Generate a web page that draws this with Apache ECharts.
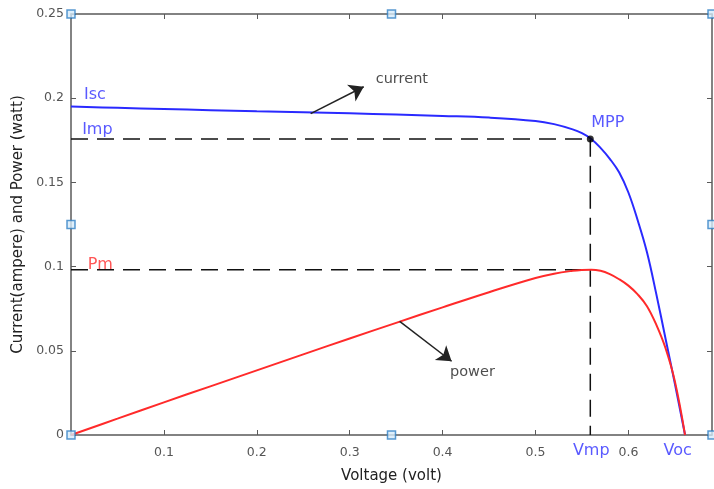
<!DOCTYPE html>
<html><head><meta charset="utf-8">
<script src="https://cdn.jsdelivr.net/npm/echarts@6/dist/echarts.min.js"></script>
<style>html,body{margin:0;padding:0;background:#fff;overflow:hidden}#c{width:714px;height:489px}</style>
</head><body><div id="c"></div>
<script>
// ---- data ----
const voltage = [0, 0.05, 0.1, 0.15, 0.2, 0.25, 0.3, 0.35, 0.4, 0.45, 0.5, 0.52, 0.54, 0.55, 0.56, 0.57, 0.58, 0.59, 0.60, 0.61, 0.62, 0.63, 0.64, 0.65, 0.661];
const current = [0.195, 0.1943, 0.1936, 0.1929, 0.1922, 0.1916, 0.191, 0.1903, 0.1895, 0.1885, 0.1865, 0.1846, 0.1815, 0.1792, 0.1758, 0.1705, 0.164, 0.156, 0.144, 0.1275, 0.1085, 0.0838, 0.0572, 0.0305, 0];
const power = [0, 0.0097, 0.0194, 0.0289, 0.0384, 0.0479, 0.0573, 0.0666, 0.0758, 0.0848, 0.0932, 0.0958, 0.0975, 0.098, 0.0982, 0.0975, 0.0955, 0.0925, 0.0887, 0.0835, 0.0765, 0.0655, 0.0515, 0.032, 0];
const vmp = 0.559, imp = 0.1758, pm = 0.0982;
const xTicks = [0.1, 0.2, 0.3, 0.4, 0.5, 0.6];
const yTicks = [0, 0.05, 0.1, 0.15, 0.2, 0.25];
const xMax = 0.69, yMax = 0.25;
const notes = [
  {text: 'Isc', at: [0.014, 0.202], color: '#3030ff', size: 16},
  {text: 'Imp', at: [0.012, 0.1813], color: '#3030ff', size: 16},
  {text: 'Pm', at: [0.018, 0.1013], color: '#ff2a2a', size: 16},
  {text: 'MPP', at: [0.560, 0.1854], color: '#3030ff', size: 16},
  {text: 'current', at: [0.328, 0.211], color: '#222', size: 14.5},
  {text: 'power', at: [0.408, 0.0373], color: '#222', size: 14.5}
];
const axisNotes = [
  {text: 'Vmp', at: [0.560, 0], color: '#3030ff'},
  {text: 'Voc', at: [0.653, 0], color: '#3030ff'}
];
const arrows = [
  [[0.258, 0.1908], [0.3151, 0.2068]],
  [[0.3538, 0.0675], [0.4097, 0.0438]]
];

const FONT = 'DejaVu Sans';
const pair = (xs, ys) => xs.map((x, i) => [x, ys[i]]);
const axisCol = '#5a5a5a';
const chart = echarts.init(document.getElementById('c'));
const mkX = (pos, show) => ({
  type: 'value', position: pos, min: 0, max: xMax, interval: 0.1,
  axisLine: {show: true, onZero: false, lineStyle: {color: axisCol, width: 1.5}},
  axisTick: {show: true, inside: true, length: 5, lineStyle: {color: axisCol}},
  splitLine: {show: false},
  axisLabel: {show: show, showMinLabel: false, showMaxLabel: false, color: '#555', fontSize: 12.5, fontFamily: FONT, margin: 11,
    formatter: v => xTicks.some(t => Math.abs(t - v) < 1e-9) ? String(+v.toFixed(2)) : ''},
  name: show ? 'Voltage (volt)' : '', nameLocation: 'middle', nameGap: 34,
  nameTextStyle: {color: '#222', fontSize: 15, fontFamily: FONT}
});
const mkY = (pos, show) => ({
  type: 'value', position: pos, min: 0, max: yMax, interval: 0.05,
  axisLine: {show: true, onZero: false, lineStyle: {color: axisCol, width: 1.5}},
  axisTick: {show: true, inside: true, length: 5, lineStyle: {color: axisCol}},
  splitLine: {show: false},
  axisLabel: {show: show, color: '#555', fontSize: 12.5, fontFamily: FONT, margin: 7,
    formatter: v => yTicks.some(t => Math.abs(t - v) < 1e-9) ? String(+v.toFixed(2)) : ''},
  name: show ? 'Current(ampere) and Power (watt)' : '', nameLocation: 'middle', nameGap: 43, nameRotate: 90,
  nameTextStyle: {color: '#222', fontSize: 15, fontFamily: FONT}
});

chart.setOption({
  animation: false,
  grid: {left: 71, top: 14, right: 2, bottom: 50, containLabel: false},
  xAxis: [mkX('bottom', true), mkX('top', false)],
  yAxis: [mkY('left', true), mkY('right', false)],
  series: [
    {type: 'line', data: pair(voltage, current), showSymbol: false, smooth: 0.4,
     lineStyle: {color: '#2a2aff', width: 2}, z: 3},
    {type: 'line', data: pair(voltage, power), showSymbol: false, smooth: 0.4,
     lineStyle: {color: '#ff2a2a', width: 2}, z: 3},
    {type: 'line', data: [[0, imp], [vmp, imp], [vmp, 0]], showSymbol: false,
     lineStyle: {color: '#111', width: 1.5, type: [17, 9]}, z: 2},
    {type: 'line', data: [[0, pm], [vmp, pm]], showSymbol: false,
     lineStyle: {color: '#111', width: 1.5, type: [17, 9]}, z: 2},
    {type: 'scatter', data: [[vmp, imp]], symbolSize: 7, itemStyle: {color: '#000'}, z: 5},
    {type: 'lines', coordinateSystem: 'cartesian2d', z: 4,
     data: arrows.map(a => ({coords: a})),
     symbol: ['none', 'arrow'], symbolSize: 14,
     lineStyle: {color: '#222', width: 1.5, opacity: 1}},
    {type: 'scatter', symbolSize: 0, z: 6,
     data: notes.map(n => ({value: n.at, label: {show: true, formatter: n.text, position: 'inside', align: 'left', verticalAlign: 'middle',
       color: n.color, fontSize: n.size, fontFamily: FONT}}))},
    {type: 'scatter', symbolSize: 0, z: 6, clip: false,
     data: axisNotes.map(n => ({value: n.at, label: {show: true, formatter: n.text, position: 'inside', offset: [0, 16], align: 'center', verticalAlign: 'middle',
       color: n.color, fontSize: 16, fontFamily: FONT}}))},
    {type: 'scatter', symbol: 'rect', symbolSize: 8, clip: false, z: 10,
     data: [[0, 0], [xMax / 2, 0], [xMax, 0], [0, yMax / 2], [xMax, yMax / 2], [0, yMax], [xMax / 2, yMax], [xMax, yMax]],
     itemStyle: {color: '#d6ebfa', borderColor: '#2f80c4', borderWidth: 1.5}}
  ]
});
</script></body></html>
